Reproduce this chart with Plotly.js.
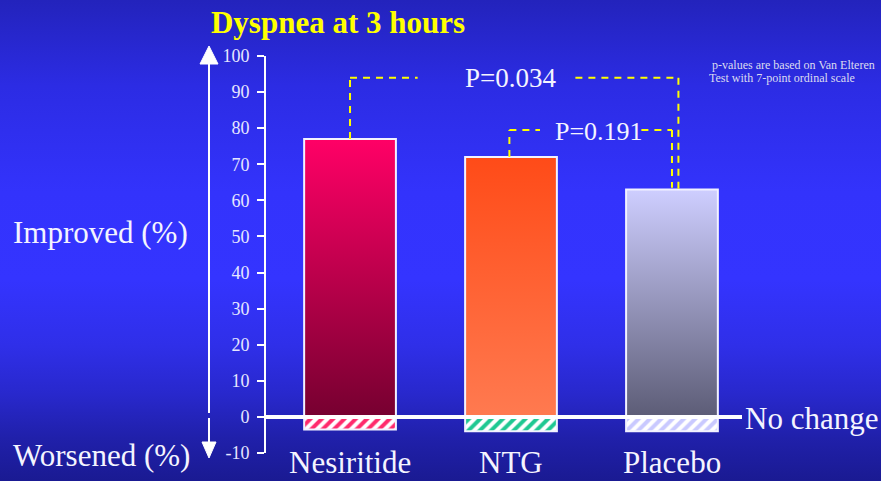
<!DOCTYPE html>
<html>
<head>
<meta charset="utf-8">
<script src="https://cdn.plot.ly/plotly-3.0.1.min.js"></script>
<style>
  html, body { margin:0; padding:0; width:881px; height:481px; overflow:hidden; }
  body { background: linear-gradient(to bottom, #2323bc 0%, #2c2ce4 18%, #3333fc 40%, #3434ff 58%, #2f2fe8 72%, #2828cc 82%, #2020aa 91%, #1a1a92 100%); }
  #chart { width:881px; height:481px; }
</style>
</head>
<body>
<div id="chart"></div>
<script>
// ---- data ----
const categories = ['Nesiritide', 'NTG', 'Placebo'];
const improved = [77, 72, 63];
const worsened = [-3.5, -4, -4];
const yTickVals = [-10, 0, 10, 20, 30, 40, 50, 60, 70, 80, 90, 100];
const yTickText = ['-10', '0', '10', '20', '30', '40', '50', '60', '70', '80', '90', '100'];
const pLabels = ['P=0.034', 'P=0.191'];
const titleText = 'Dyspnea at 3 hours';
const footnote = ['p-values are based on Van Elteren', 'Test with 7-point ordinal scale'];

// ---- styles ----
const serif = 'Liberation Serif, Times New Roman, serif';
const gradStops = [
  ['#ff0066', '#760030'],
  ['#ff4b18', '#ff7a50'],
  ['#ceceff', '#5c5c76']
];
const hatchColors = ['#ff2a6c', '#1fc892', '#c9c9ff'];

// plot area in pixels
const L = 266, R = 742, T = 56, B = 453;
const W = R - L, H = B - T;
const px = x => (x - L) / W;
const py = y => (B - y) / H;

const traces = [
  {
    type: 'bar', x: categories, y: improved, width: 0.57,
    marker: { color: gradStops.map(g => g[0]), line: { color: '#f2f2ff', width: 2 } },
    hoverinfo: 'skip'
  },
  {
    type: 'bar', x: categories, y: worsened, width: 0.57,
    marker: {
      color: '#ffffff',
      line: { color: '#f2f2ff', width: 2 },
      pattern: { shape: '/', fgcolor: hatchColors, bgcolor: '#ffffff', size: 8, solidity: 0.5 }
    },
    hoverinfo: 'skip'
  }
];

const yellow = '#ffff00';
const dash = { color: yellow, width: 2, dash: '7px,6px' };
function seg(x0, y0, x1, y1) {
  return { type: 'line', xref: 'x', yref: 'y', x0, y0, x1, y1, line: dash, layer: 'above' };
}
const b1y = 94, b2y = 79.5;
const shapes = [
  seg(0, improved[0], 0, b1y),
  seg(0, b1y, 0.42, b1y),
  seg(1.40, b1y, 2.04, b1y),
  seg(2.04, b1y, 2.04, improved[2] - 0.5),
  seg(0.99, improved[1], 0.99, b2y),
  seg(0.99, b2y, 1.18, b2y),
  seg(1.81, b2y, 2.0, b2y),
  seg(2.0, b2y, 2.0, improved[2] + 0.5),
  { type: 'line', xref: 'paper', yref: 'y', x0: 0, x1: 1, y0: 0, y1: 0,
    line: { color: '#ffffff', width: 4 }, layer: 'above' },
  { type: 'line', xref: 'paper', yref: 'paper', x0: px(209), x1: px(209), y0: py(63), y1: py(413),
    line: { color: '#ffffff', width: 2 } },
  { type: 'path', xref: 'paper', yref: 'paper',
    path: `M ${px(200)} ${py(64)} L ${px(218)} ${py(64)} L ${px(209)} ${py(46)} Z`,
    fillcolor: '#ffffff', line: { color: '#ffffff', width: 1 } },
  { type: 'line', xref: 'paper', yref: 'paper', x0: px(209), x1: px(209), y0: py(418), y1: py(443),
    line: { color: '#ffffff', width: 2 } },
  { type: 'path', xref: 'paper', yref: 'paper',
    path: `M ${px(202)} ${py(442)} L ${px(216)} ${py(442)} L ${px(209)} ${py(458)} Z`,
    fillcolor: '#ffffff', line: { color: '#ffffff', width: 1 } }
];

const txt = (text, x, y, size, opts) => Object.assign({
  text, x, y, xref: 'paper', yref: 'paper', showarrow: false,
  font: { family: serif, size, color: '#f4f4ff' }, xanchor: 'left', yanchor: 'middle'
}, opts || {});

const small = { family: serif, size: 12, color: '#dcdcf0' };
const annotations = [
  txt('Improved (%)', px(11), py(232), 31),
  txt('Worsened (%)', px(11), py(455), 31),
  txt('No change', px(743), py(418), 31),
  txt(pLabels[0], px(463), py(78), 27),
  txt(pLabels[1], px(553), py(131), 26),
  txt(footnote[0], px(710), py(65), 12, { font: small }),
  txt(footnote[1], px(707), py(78), 12, { font: small })
];
categories.forEach(c => {
  annotations.push({ text: c, x: c, xref: 'x', y: py(463), yref: 'paper', showarrow: false,
    xanchor: 'center', yanchor: 'middle', font: { family: serif, size: 31, color: '#f4f4ff' } });
});

const layout = {
  width: 881, height: 481,
  font: { family: serif },
  margin: { l: L, r: 881 - R, t: T, b: 481 - B, pad: 0 },
  paper_bgcolor: 'rgba(0,0,0,0)', plot_bgcolor: 'rgba(0,0,0,0)',
  showlegend: false, barmode: 'relative',
  title: { text: '<b>' + titleText + '</b>', x: 338 / 881, xanchor: 'center', xref: 'container',
           y: 1 - 22 / 481, yanchor: 'middle', yref: 'container',
           font: { family: serif, size: 31, color: yellow } },
  xaxis: { type: 'category', range: [-0.522, 2.435], showticklabels: false, showline: false,
           showgrid: false, zeroline: false, ticks: '', fixedrange: true },
  yaxis: { range: [-10, 100], tickvals: yTickVals, ticktext: yTickText, showline: true,
           linecolor: '#ffffff', linewidth: 2, ticklabelstandoff: 4,
           ticks: 'outside', ticklen: 7, tickwidth: 2, tickcolor: '#ffffff', showgrid: false,
           zeroline: false, tickfont: { family: serif, size: 18, color: '#e6e6ff' }, fixedrange: true },
  shapes, annotations
};

const ns = 'http://www.w3.org/2000/svg';
function applyGradients() {
  const gd = document.getElementById('chart');
  const svg = gd.querySelector('svg.main-svg');
  if (!svg) return;
  let defs = document.getElementById('bardefs');
  if (!defs) {
    defs = document.createElementNS(ns, 'defs');
    defs.setAttribute('id', 'bardefs');
    svg.insertBefore(defs, svg.firstChild);
    gradStops.forEach((g, i) => {
      const lg = document.createElementNS(ns, 'linearGradient');
      lg.setAttribute('id', 'bargrad' + i);
      lg.setAttribute('x1', '0'); lg.setAttribute('y1', '0');
      lg.setAttribute('x2', '0'); lg.setAttribute('y2', '1');
      [['0', g[0]], ['1', g[1]]].forEach(([o, c]) => {
        const st = document.createElementNS(ns, 'stop');
        st.setAttribute('offset', o); st.setAttribute('stop-color', c);
        lg.appendChild(st);
      });
      defs.appendChild(lg);
    });
  }
  const barTraces = gd.querySelectorAll('g.trace.bars');
  if (barTraces.length) {
    barTraces[0].querySelectorAll('path').forEach((p, i) => {
      p.style.setProperty('fill', 'url(#bargrad' + i + ')', 'important');
    });
  }
}

Plotly.newPlot('chart', traces, layout, { staticPlot: true, displayModeBar: false }).then(() => {
  applyGradients();
  setTimeout(applyGradients, 50);
  setTimeout(applyGradients, 300);
});
applyGradients();
</script>
</body>
</html>
